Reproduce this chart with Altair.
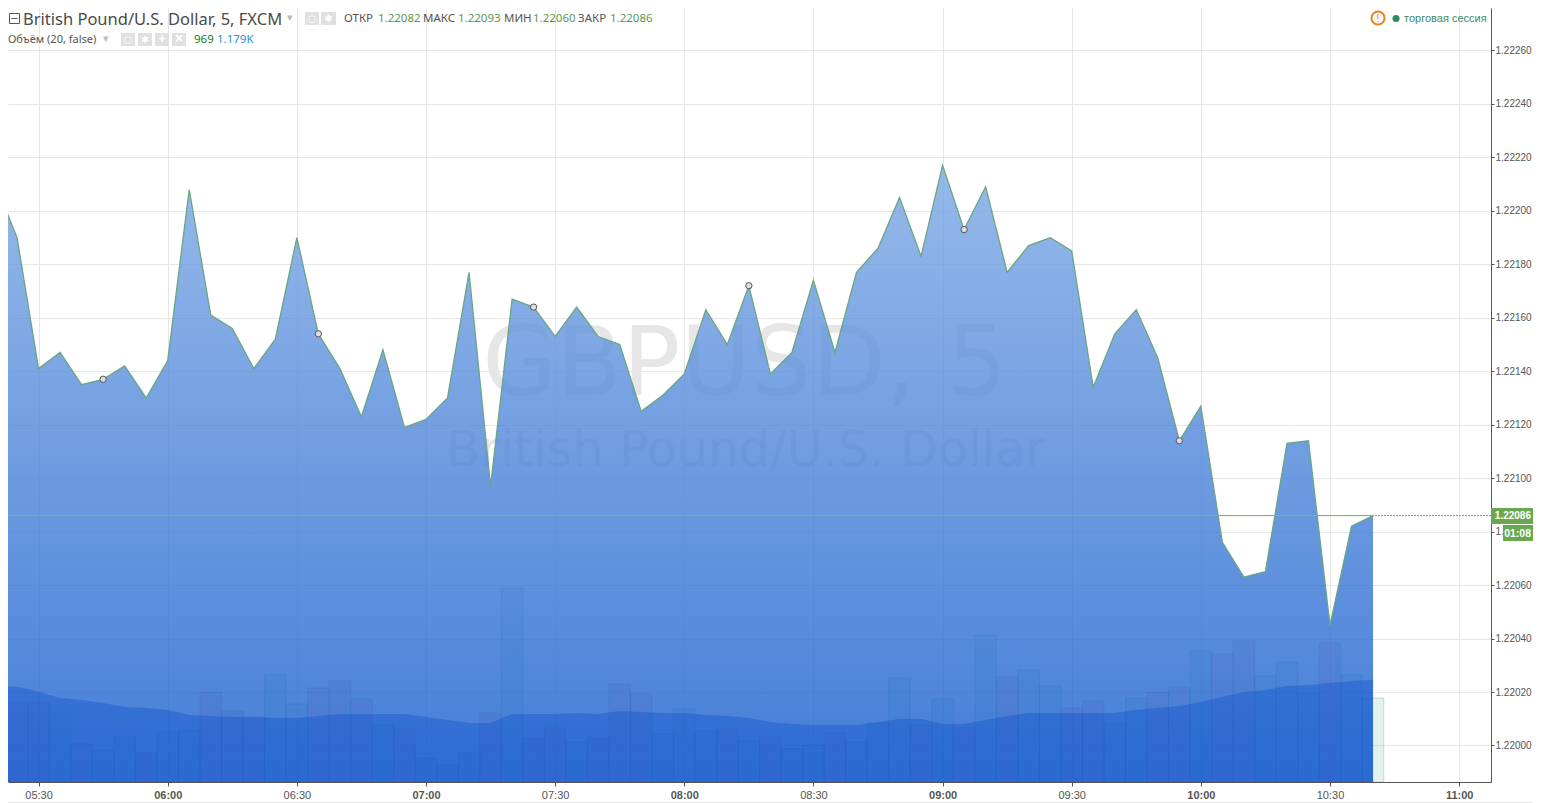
import altair as alt
import pandas as pd

PLOT_W, PLOT_H = 1483, 774

close = [1.22210, 1.22190, 1.22141, 1.22147, 1.22135, 1.22137, 1.22142, 1.22130, 1.22144, 1.22208,
         1.22161, 1.22156, 1.22141, 1.22152, 1.22190, 1.22154, 1.22141, 1.22123, 1.22148, 1.22119,
         1.22122, 1.22130, 1.22177, 1.22097, 1.22167, 1.22164, 1.22153, 1.22164, 1.22153, 1.22150,
         1.22125, 1.22131, 1.22139, 1.22163, 1.22150, 1.22172, 1.22139, 1.22147, 1.22174, 1.22147,
         1.22177, 1.22186, 1.22205, 1.22183, 1.22217, 1.22193, 1.22209, 1.22177, 1.22187, 1.22190,
         1.22185, 1.22134, 1.22154, 1.22163, 1.22145, 1.22114, 1.22127, 1.22076, 1.22063, 1.22065,
         1.22113, 1.22114, 1.22045, 1.22082, 1.22086]
volume = [1100, 923, 923, 796, 439, 369, 519, 335, 577, 600,
          1039, 819, 750, 1235, 900, 1085, 1166, 958, 658, 612,
          277, 196, 335, 796, 2239, 508, 623, 462, 508, 1131,
          1016, 554, 842, 589, 612, 473, 519, 381, 427, 565,
          462, 681, 1200, 658, 958, 623, 1696, 1212, 1292, 1108,
          854, 935, 669, 969, 1039, 1096, 1512, 1477, 1627, 1223,
          1385, 1016, 1604, 1235, 969]
vol_ma = [1108, 1100, 1042, 969, 946, 912, 866, 854, 831, 773,
          762, 750, 750, 739, 739, 762, 785, 785, 785, 785,
          750, 715, 681, 681, 785, 785, 785, 796, 785, 819,
          808, 796, 796, 773, 762, 739, 692, 669, 658, 658,
          658, 692, 727, 727, 669, 669, 715, 762, 796, 796,
          796, 796, 796, 831, 854, 877, 923, 981, 1039, 1062,
          1108, 1119, 1142, 1166, 1179]
event_idx = [5, 15, 25, 35, 45, 55]
y_ticks = [1.22000, 1.22020, 1.22040, 1.22060, 1.22080, 1.22100, 1.22120, 1.22140,
           1.22160, 1.22180, 1.22200, 1.22220, 1.22240, 1.22260]
last_price = 1.22086
x_tick_times = ["05:30", "06:00", "06:30", "07:00", "07:30", "08:00", "08:30", "09:00", "09:30", "10:00", "10:30", "11:00"]
Y_MIN, Y_MAX = 1.2198633, 1.222759


def dt(h, m, s=0):
    return alt.DateTime(year=2017, month=1, date=11, hours=h, minutes=m, seconds=s)


times = pd.date_range("2017-01-11 05:20", periods=len(close), freq="5min")
dir_up = [True] + [close[i] >= close[i - 1] for i in range(1, len(close))]
df = pd.DataFrame({"t": times, "close": close, "vol": volume, "ma": vol_ma,
                   "dir": ["up" if u else "down" for u in dir_up]})
events = df.iloc[event_idx]

x_scale = alt.Scale(domain=[dt(5, 22, 54), dt(11, 7, 24)], padding=0)
y_scale = alt.Scale(domain=[Y_MIN, Y_MAX], nice=False, zero=False)
vol_scale = alt.Scale(domain=[0, 8932], nice=False, zero=True)

X = alt.X("t:T", scale=x_scale, title=None)
GRID = "#e6e6e6"
AXIS = "#555555"

x_vals = [dt(int(s[:2]), int(s[3:])) for s in x_tick_times]
base = alt.Chart(df).mark_line(opacity=0).encode(
    x=alt.X("t:T", scale=x_scale, title=None,
            axis=alt.Axis(format="%H:%M", values=x_vals,
                          grid=True, gridColor=GRID, gridWidth=1, domainColor=AXIS, tickColor=AXIS,
                          tickSize=4, labelColor="#555555", labelFontSize=11, labelFont="Liberation Sans",
                          labelPadding=3, labelOverlap=False, labelFlush=False,
                          labelFontWeight={"condition": {"test": "minutes(datum.value)==0", "value": "bold"},
                                           "value": "normal"})),
    y=alt.Y("close:Q", scale=y_scale, title=None,
            axis=alt.Axis(orient="right", values=y_ticks, format=".5f", grid=True, gridColor=GRID, gridWidth=1,
                          domainColor=AXIS, tickColor=AXIS, tickSize=3, labelColor="#555555", labelFontSize=10,
                          labelFont="Liberation Sans", labelPadding=1, labelOverlap=False, labelFlush=False)),
)


def px_text(text, px, py, color="#555555", size=12, font="Noto Sans", weight="normal", align="left", opacity=1):
    return alt.Chart(pd.DataFrame({"a": [0]})).mark_text(
        text=text, align=align, baseline="middle", font=font, fontSize=size, fontWeight=weight,
        color=color, opacity=opacity,
    ).encode(x=alt.value(px - 8), y=alt.value(py - 8))


def px_rect(x0, y0, x1, y1, fill="#e0e0e0", stroke=None, sw=1):
    kw = {"fill": fill}
    if stroke:
        kw.update(stroke=stroke, strokeWidth=sw)
    return alt.Chart(pd.DataFrame({"a": [0]})).mark_rect(**kw).encode(
        x=alt.value(x0 - 8), x2=alt.value(x1 - 8), y=alt.value(y0 - 8), y2=alt.value(y1 - 8))


watermark = [
    px_text("GBPUSD, 5", 745, 366, color="#e6e6e6", size=96, font="DejaVu Sans", align="center"),
    px_text("British Pound/U.S. Dollar", 746, 451, color="#e6e6e6", size=49, font="DejaVu Sans", align="center"),
]

bars = alt.Chart(df).mark_bar(width=21.5, clip=True, strokeWidth=1).encode(
    x=X,
    y=alt.Y("vol:Q", scale=vol_scale, axis=None),
    color=alt.Color("dir:N", legend=None, scale=alt.Scale(domain=["up", "down"], range=["#53b987", "#eb4d5c"])),
    fillOpacity=alt.value(0.17),
    strokeOpacity=alt.value(0.25),
    stroke=alt.value("#2f8f60"),
)

area_grad = alt.Gradient(gradient="linear", x1=1, x2=1, y1=0, y2=1,
                         stops=[alt.GradientStop(color="#7ca8e4", offset=0),
                                alt.GradientStop(color="#155ccd", offset=1)])
area = alt.Chart(df).mark_area(clip=True, color=area_grad, opacity=0.8).encode(
    x=X, y=alt.Y("close:Q", scale=y_scale, axis=None), y2=alt.Y2(datum=Y_MIN))

ma = alt.Chart(df).mark_area(clip=True, color="#0348ca", opacity=0.33).encode(
    x=X, y=alt.Y("ma:Q", scale=vol_scale, axis=None))

line = alt.Chart(df).mark_line(clip=True, color="#6ba583", strokeWidth=1.3).encode(
    x=X, y=alt.Y("close:Q", scale=y_scale, axis=None))

price_rule = alt.Chart(pd.DataFrame({"p": [last_price]})).mark_rule(
    color="#6db33f", strokeWidth=1, strokeDash=[2, 1]).encode(
    y=alt.Y("p:Q", scale=y_scale, axis=None))

price_rule_solid = alt.Chart(df.iloc[[1, len(close) - 1]].assign(p=last_price)).mark_line(
    color="#7fb86a", strokeWidth=1, clip=True).encode(
    x=X, y=alt.Y("p:Q", scale=y_scale, axis=None))

price_rule_left = alt.Chart(pd.DataFrame({"p": [last_price]})).mark_rule(
    color="#7fb86a", strokeWidth=1).encode(
    x=alt.value(0), x2=alt.value(12), y=alt.Y("p:Q", scale=y_scale, axis=None))

markers = alt.Chart(events).mark_point(filled=True, size=40, fill="#dddddd", stroke="#555555",
                                       strokeWidth=1, opacity=1, fillOpacity=1, clip=True).encode(
    x=X, y=alt.Y("close:Q", scale=y_scale, axis=None))

tag_green = "#6aa84f"
tags = [
    px_rect(1491, 508, 1533, 524, fill=tag_green),
    px_text("1.22086", 1531, 516, color="#ffffff", size=10, font="Liberation Sans", weight="bold", align="right"),
    px_rect(1503, 525, 1533, 541, fill=tag_green),
    px_text("01:08", 1531, 533.5, color="#ffffff", size=10.5, font="Liberation Sans", weight="bold", align="right"),
    px_rect(8, 802, 1533, 803, fill="#e6e6e6"),
]

header_green = "#5a9a4a"
header = [
    px_rect(9.5, 13.5, 19.5, 23.5, fill="#ffffff", stroke="#555555"),
    px_rect(11.5, 18, 17.5, 19, fill="#555555"),
    px_text("British Pound/U.S. Dollar, 5, FXCM", 23, 19.5, size=16.5, color="#4a4a4a"),
    px_text("▾", 287, 18, size=11, color="#bbbbbb", font="DejaVu Sans"),
    px_rect(305, 12, 319, 25), px_rect(321, 12, 336, 25),
    px_text("ОТКР", 344, 19, size=11.5), px_text("1.22082", 378, 19, size=11.5, color=header_green),
    px_text("МАКС", 423, 19, size=11.5), px_text("1.22093", 458, 19, size=11.5, color=header_green),
    px_text("МИН", 504, 19, size=11.5), px_text("1.22060", 533, 19, size=11.5, color=header_green),
    px_text("ЗАКР", 578, 19, size=11.5), px_text("1.22086", 610, 19, size=11.5, color=header_green),
    px_text("Объём (20, false)", 8, 39.5, size=11),
    px_text("▾", 103, 39, size=11, color="#bbbbbb", font="DejaVu Sans"),
    px_rect(121, 33, 135, 46), px_rect(138, 33, 152, 46), px_rect(155, 33, 169, 46), px_rect(172, 33, 186, 46),
    px_text("+", 162, 39, size=13, color="#ffffff", font="Liberation Sans", weight="bold", align="center"),
    px_text("×", 179, 39, size=14, color="#ffffff", font="Liberation Sans", weight="bold", align="center"),
    px_text("969", 194, 39.5, size=11.5, color="#0a7d2d"),
    px_text("1.179K", 217, 39.5, size=11.5, color="#2196d3"),
    px_text("!", 1378, 18.5, size=10, color="#ef7d1a", font="Liberation Sans", align="center"),
    px_text("торговая сессия", 1404, 18.5, size=11, color="#3a8a68", font="Liberation Sans"),
]
for cx, cy in [(312, 18.5), (328.5, 18.5), (128, 39.5), (145, 39.5)]:
    header.append(px_text("○" if cx in (312, 128) else "✱", cx, cy, size=10, color="#ffffff",
                          font="DejaVu Sans", align="center"))
ring = alt.Chart(pd.DataFrame({"a": [0]})).mark_point(size=170, stroke="#ef7d1a", strokeWidth=2, fillOpacity=0).encode(
    x=alt.value(1378 - 8), y=alt.value(18 - 8))
dot = alt.Chart(pd.DataFrame({"a": [0]})).mark_point(size=50, filled=True, fill="#2e8b60", opacity=1).encode(
    x=alt.value(1396 - 8), y=alt.value(18.5 - 8))

chart = alt.layer(base, *watermark, bars, area, ma, line, price_rule, price_rule_solid, price_rule_left,
                  markers, *tags, *header, ring, dot).resolve_scale(
    y="independent"
).properties(
    width=PLOT_W, height=PLOT_H,
    padding={"left": 0, "top": 0, "right": 42, "bottom": 21},
    autosize=alt.AutoSizeParams(type="none"),
    background="#ffffff",
).configure_view(stroke=None)

chart.save("out.html", embed_options={"renderer": "svg", "actions": False})
